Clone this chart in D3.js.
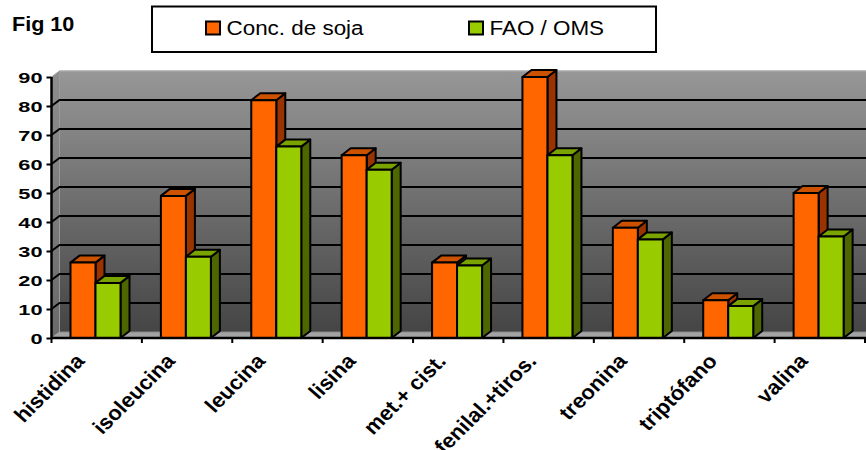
<!DOCTYPE html>
<html>
<head>
<meta charset="utf-8">
<script src="https://cdn.jsdelivr.net/npm/d3@7"></script>
<style>
  html, body { margin: 0; padding: 0; background: #fff; }
  svg { display: block; }
  text { font-family: "Liberation Sans", Arial, sans-serif; }
</style>
</head>
<body>
<script>
// Amino-acid profile: soy concentrate vs. FAO/WHO reference pattern
const categories = ["histidina", "isoleucina", "leucina", "lisina", "met.+ cist.",
                    "fenilal.+tiros.", "treonina", "triptófano", "valina"];
const seriesNames = ["Conc. de soja", "FAO / OMS"];
const sojaValues = [26, 49, 82, 63, 26, 90, 38, 13, 50];
const faoValues  = [19, 28, 66, 58, 25, 63, 34, 11, 35];
const yTicks = [0, 10, 20, 30, 40, 50, 60, 70, 80, 90];
const figTitle = "Fig 10";

const W = 866, H = 450;
const svg = d3.select("body").append("svg").attr("width", W).attr("height", H);

// plot geometry (front plane) and 3D depth offsets
const plotLeft = 51.5, plotRight = 865, plotBase = 338, plotTop = 77;
const wallDx = 8, wallDy = -6;
const barDx = 9, barDy = -7;

const x = d3.scaleBand().domain(categories).range([plotLeft, plotRight]);
const xs = d3.scaleBand().domain(seriesNames).range([0, 50]);
const y = d3.scaleLinear().domain([0, 90]).range([plotBase, plotTop]);

const colors = {
  "Conc. de soja": { front: "#FF6600", top: "#CC5200", side: "#993300" },
  "FAO / OMS":     { front: "#99CC00", top: "#7AA300", side: "#4D6600" }
};

const defs = svg.append("defs");
const wallGrad = defs.append("linearGradient").attr("id", "wallGrad")
  .attr("x1", 0).attr("y1", 0).attr("x2", 0).attr("y2", 1);
wallGrad.append("stop").attr("offset", "0%").attr("stop-color", "#979797");
wallGrad.append("stop").attr("offset", "100%").attr("stop-color", "#454545");
const sideGrad = defs.append("linearGradient").attr("id", "sideGrad")
  .attr("x1", 0).attr("y1", 0).attr("x2", 0).attr("y2", 1);
sideGrad.append("stop").attr("offset", "0%").attr("stop-color", "#8e8e8e");
sideGrad.append("stop").attr("offset", "100%").attr("stop-color", "#6a6a6a");

const y0 = y(0), y90 = y(90);

// back wall
svg.append("rect")
  .attr("x", plotLeft + wallDx).attr("y", y90 + wallDy)
  .attr("width", W - (plotLeft + wallDx)).attr("height", y0 - y90)
  .attr("fill", "url(#wallGrad)");
svg.append("line")
  .attr("x1", plotLeft + wallDx).attr("x2", W)
  .attr("y1", y90 + wallDy).attr("y2", y90 + wallDy)
  .attr("stroke", "#a8a8a8").attr("stroke-width", 1.5);

// side wall
svg.append("polygon")
  .attr("points", [[plotLeft, y90], [plotLeft + wallDx, y90 + wallDy], [plotLeft + wallDx, y0 + wallDy], [plotLeft, y0]].join(" "))
  .attr("fill", "url(#sideGrad)").attr("stroke", "#9a9a9a").attr("stroke-width", 1);

// floor
svg.append("polygon")
  .attr("points", [[plotLeft, y0], [plotLeft + wallDx, y0 + wallDy], [W, y0 + wallDy], [W, y0]].join(" "))
  .attr("fill", "#a3a3a3");
svg.append("line")
  .attr("x1", plotLeft + wallDx).attr("x2", W)
  .attr("y1", y0 + wallDy).attr("y2", y0 + wallDy)
  .attr("stroke", "#8a8a8a").attr("stroke-width", 1);

// gridlines on side and back walls
const grid = svg.append("g").attr("stroke", "#000").attr("stroke-width", 2).attr("fill", "none");
yTicks.filter(v => v > 0 && v < 90).forEach(v => {
  const yy = y(v);
  grid.append("path")
    .attr("d", `M${plotLeft},${yy} L${plotLeft + wallDx},${yy + wallDy} L${W},${yy + wallDy}`);
});

// 3D bars
const seriesData = [sojaValues, faoValues];
const bars = svg.append("g");
categories.forEach((cat, i) => {
  seriesNames.forEach((s, k) => {
    const v = seriesData[k][i];
    const x0 = x(cat) + 19 + xs(s), w = xs.bandwidth();
    const yt = y(v), yb = y(0);
    const c = colors[s];
    const g = bars.append("g").attr("stroke", "#000").attr("stroke-width", 2)
      .attr("stroke-linejoin", "round");
    // side face
    g.append("polygon")
      .attr("points", [[x0 + w, yt], [x0 + w + barDx, yt + barDy], [x0 + w + barDx, yb + barDy], [x0 + w, yb]].join(" "))
      .attr("fill", c.side);
    // top face
    g.append("polygon")
      .attr("points", [[x0, yt], [x0 + barDx, yt + barDy], [x0 + w + barDx, yt + barDy], [x0 + w, yt]].join(" "))
      .attr("fill", c.top);
    // front face
    g.append("rect")
      .attr("x", x0).attr("y", yt).attr("width", w).attr("height", yb - yt)
      .attr("fill", c.front);
  });
});

// y axis
const yAxisG = svg.append("g").attr("transform", `translate(${plotLeft},0)`)
  .call(d3.axisLeft(y).tickValues(yTicks).tickSize(5).tickPadding(4).tickFormat(d3.format("d")));
yAxisG.select(".domain").attr("stroke", "#000").attr("stroke-width", 2.5)
  .attr("d", `M0,${y90}V${y0 + 1}`);
yAxisG.selectAll(".tick line").attr("stroke", "#000").attr("stroke-width", 2);
yAxisG.selectAll(".tick text")
  .attr("font-size", 15).attr("font-weight", "bold").attr("fill", "#000")
  .attr("dy", "0.36em")
  .each(function () {
    const t = d3.select(this);
    const tx = +t.attr("x");
    t.attr("x", 0).attr("transform", `translate(${tx},0) scale(1.45,1)`);
  });

// x axis: tick marks at category boundaries
const xAxisG = svg.append("g");
xAxisG.append("line").attr("x1", plotLeft).attr("x2", W).attr("y1", y0).attr("y2", y0)
  .attr("stroke", "#000").attr("stroke-width", 2.5);
categories.concat([null]).forEach((cat, i) => {
  const xx = i < categories.length ? x(cat) : x(categories[categories.length - 1]) + x.bandwidth();
  xAxisG.append("line").attr("x1", xx).attr("x2", xx).attr("y1", y0).attr("y2", y0 + 5)
    .attr("stroke", "#000").attr("stroke-width", 2);
});

// category labels, rotated
svg.append("g").selectAll("text").data(categories).join("text")
  .attr("transform", d => `translate(${x(d) + x.bandwidth() / 2 - 11},362) scale(1.08,1) rotate(-47)`)
  .attr("text-anchor", "end")
  .attr("font-size", 20.5).attr("font-weight", "bold").attr("fill", "#000")
  .text(d => d);

// figure label
svg.append("text")
  .attr("transform", "translate(12,30.5) scale(1.08,1)")
  .attr("font-size", 20).attr("font-weight", "bold").attr("fill", "#000")
  .text(figTitle);

// legend
const legend = svg.append("g");
legend.append("rect").attr("x", 152).attr("y", 6.5).attr("width", 504).attr("height", 45.5)
  .attr("fill", "#fff").attr("stroke", "#000").attr("stroke-width", 2);
const legendX = [206, 469];
seriesNames.forEach((s, k) => {
  legend.append("rect").attr("x", legendX[k]).attr("y", 21.5).attr("width", 14).attr("height", 13)
    .attr("fill", colors[s].front).attr("stroke", "#000").attr("stroke-width", 2);
  legend.append("text")
    .attr("transform", `translate(${legendX[k] + 20.5},35) scale(1.15,1)`)
    .attr("font-size", 19.5).attr("fill", "#000")
    .text(s);
});
</script>
</body>
</html>
